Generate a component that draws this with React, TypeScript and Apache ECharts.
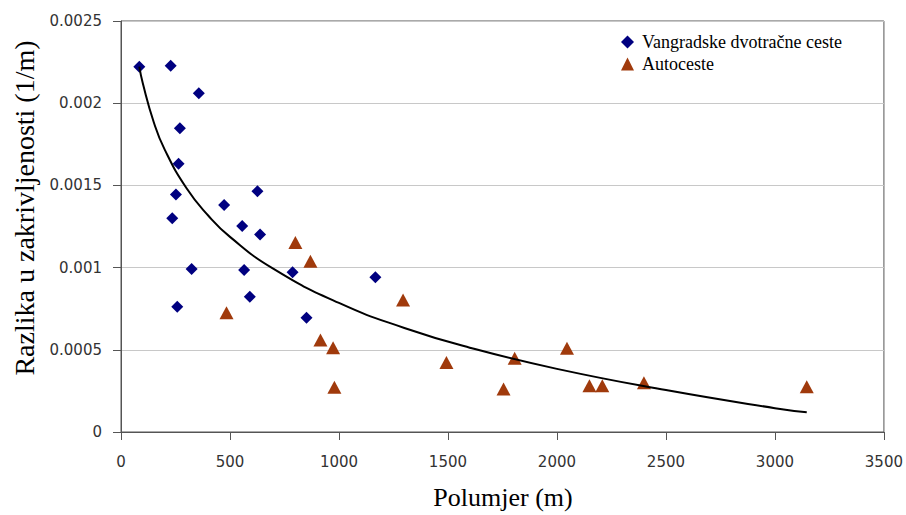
import React, { useEffect, useRef } from "react";
import * as echarts from "echarts";

// Vangradske dvotračne ceste (blue diamonds)
const ruralX = [84, 228, 357, 270, 264, 252, 626, 473, 235, 556, 638, 324, 565, 591, 258, 787, 1167, 851];
const ruralY = [0.002222, 0.002228, 0.00206, 0.001847, 0.001632, 0.001444, 0.001464, 0.001381, 0.0013, 0.001253, 0.001202, 0.000992, 0.000985, 0.000823, 0.000762, 0.000971, 0.000941, 0.000695];

// Autoceste (brown triangles)
const motorX = [484, 800, 869, 915, 973, 979, 1294, 1493, 1755, 1806, 2046, 2149, 2208, 2399, 3146];
const motorY = [0.000726, 0.001152, 0.001038, 0.00056, 0.000513, 0.000272, 0.000803, 0.000422, 0.000262, 0.000448, 0.000509, 0.000282, 0.000282, 0.0003, 0.000276];

// Trend curve
const trendX = [84, 100, 150, 200, 300, 400, 500, 700, 1000, 1300, 1600, 2000, 2500, 3000, 3146];
const trendY = [0.002222, 0.002121, 0.001886, 0.001719, 0.001484, 0.001317, 0.001187, 0.000992, 0.000785, 0.000633, 0.000513, 0.000384, 0.000255, 0.000145, 0.00012];

const yTickLabels = ["0", "0.0005", "0.001", "0.0015", "0.002", "0.0025"];
const xTickLabels = ["0", "500", "1000", "1500", "2000", "2500", "3000", "3500"];

const seriesNames = ["Vangradske dvotračne ceste", "Autoceste"];
const xTitle = "Polumjer (m)";
const yTitle = "Razlika u zakrivljenosti (1/m)";

export default function App() {
  const ref = useRef<HTMLDivElement>(null);
  useEffect(() => {
    if (!ref.current) return;
    const chart = echarts.init(ref.current, null, { renderer: "svg" });
    const pair = (xs: number[], ys: number[]) => xs.map((x, i) => [x, ys[i]]);
    chart.setOption({
      animation: false,
      backgroundColor: "#ffffff",
      grid: {
        left: 121,
        right: 21,
        top: 21,
        bottom: 83,
        show: true,
        borderColor: "#555555",
        borderWidth: 1,
      },
      legend: {
        data: [
          { name: seriesNames[0], icon: "diamond" },
          { name: seriesNames[1], icon: "triangle" },
        ],
        orient: "vertical",
        left: 616,
        top: 28,
        itemWidth: 13,
        itemHeight: 13,
        itemGap: 4,
        textStyle: {
          fontFamily: "Liberation Serif",
          fontSize: 18,
          color: "#000000",
          padding: [0, 0, 0, 3],
        },
      },
      xAxis: {
        type: "value",
        min: 0,
        max: 3500,
        interval: 500,
        axisLine: { show: true, lineStyle: { color: "#555555", width: 1 } },
        axisTick: { show: true, length: 8, lineStyle: { color: "#555555" } },
        splitLine: { show: false },
        axisLabel: {
          margin: 22,
          fontFamily: "DejaVu Sans",
          fontSize: 15,
          color: "#333333",
          formatter: (v: number) => xTickLabels[Math.round(v / 500)] ?? "",
        },
      },
      yAxis: {
        type: "value",
        min: 0,
        max: 0.0025,
        interval: 0.0005,
        axisLine: { show: true, lineStyle: { color: "#555555", width: 1 } },
        axisTick: { show: true, length: 8, lineStyle: { color: "#555555" } },
        splitLine: { show: true, lineStyle: { color: "#c8c8c8", width: 1 } },
        axisLabel: {
          margin: 19,
          fontFamily: "DejaVu Sans",
          fontSize: 15,
          color: "#333333",
          formatter: (v: number) => yTickLabels[Math.round(v / 0.0005)] ?? "",
        },
      },
      graphic: [
        {
          type: "text",
          x: 503,
          y: 497,
          style: {
            text: xTitle,
            fontFamily: "Liberation Serif",
            fontSize: 26,
            fill: "#000000",
            textAlign: "center",
            textVerticalAlign: "middle",
          },
        },
        {
          type: "text",
          x: 24,
          y: 208,
          rotation: Math.PI / 2,
          style: {
            text: yTitle,
            fontFamily: "Liberation Serif",
            fontSize: 28,
            fill: "#000000",
            textAlign: "center",
            textVerticalAlign: "middle",
          },
        },
      ],
      series: [
        {
          name: seriesNames[0],
          type: "scatter",
          symbol: "diamond",
          symbolSize: 12,
          itemStyle: { color: "#000080", opacity: 1 },
          data: pair(ruralX, ruralY),
          z: 3,
        },
        {
          name: seriesNames[1],
          type: "scatter",
          symbol: "triangle",
          symbolSize: [14, 13],
          itemStyle: { color: "#a03a0c", opacity: 1 },
          data: pair(motorX, motorY),
          z: 3,
        },
        {
          name: "trend",
          type: "line",
          smooth: true,
          symbol: "none",
          lineStyle: { color: "#000000", width: 2 },
          data: pair(trendX, trendY),
          z: 5,
        },
      ],
    });
    return () => chart.dispose();
  }, []);
  return (
    <div
      ref={ref}
      style={{ position: "absolute", left: 0, top: 0, width: 906, height: 515 }}
    />
  );
}
